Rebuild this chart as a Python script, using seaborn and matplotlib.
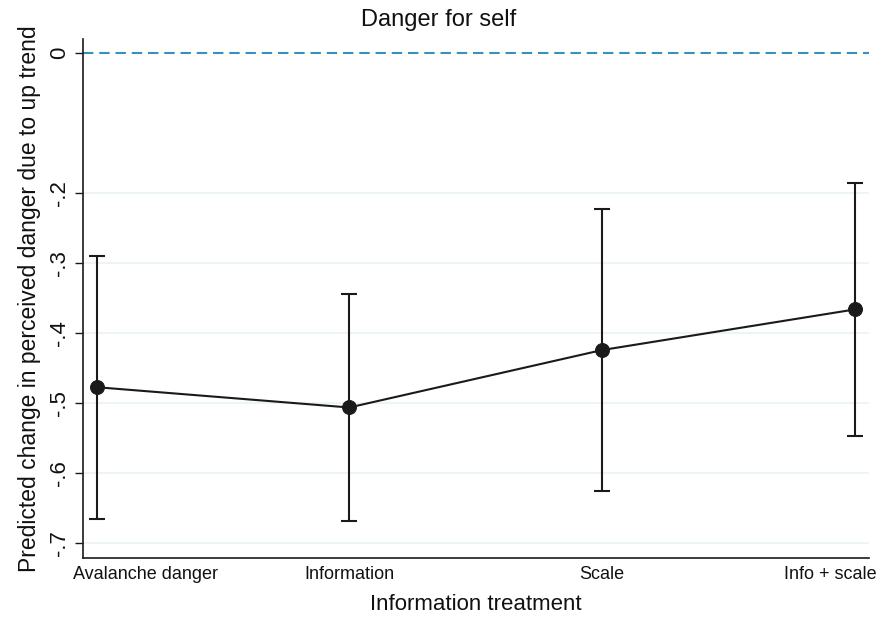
import matplotlib
matplotlib.use("Agg")
import matplotlib.pyplot as plt
import matplotlib.transforms as mtransforms
import seaborn as sns
import pandas as pd

categories = ["Avalanche danger", "Information", "Scale", "Info + scale"]
estimates = [-0.477, -0.506, -0.424, -0.366]
ci_upper = [-0.289, -0.344, -0.223, -0.186]
ci_lower = [-0.665, -0.668, -0.626, -0.547]
ytick_values = [0, -0.2, -0.3, -0.4, -0.5, -0.6, -0.7]
ytick_labels = ["0", "-.2", "-.3", "-.4", "-.5", "-.6", "-.7"]

sns.set_theme(style="white")
plt.rcParams["font.family"] = ["Liberation Sans", "DejaVu Sans"]

df = pd.DataFrame({"pos": list(range(1, len(categories) + 1)),
                   "est": estimates, "lo": ci_lower, "hi": ci_upper})

fig = plt.figure(figsize=(8.78, 6.19), dpi=100)
ax = fig.add_axes([0.0942, 0.099, 0.8955, 0.838])

# gridlines
for v in ytick_values[1:]:
    ax.axhline(v, color="#eaf2f4", lw=1.2, zorder=0)
ax.axhline(0, color="#3a8fbf", lw=1.5, ls=(0, (5, 2.8)), zorder=1)

ax.errorbar(df["pos"], df["est"],
            yerr=[df["est"] - df["lo"], df["hi"] - df["est"]],
            fmt="none", ecolor="#1a1a1a", elinewidth=1.5, capsize=6, capthick=1.5, zorder=2)
sns.lineplot(data=df, x="pos", y="est", ax=ax, color="#1a1a1a", lw=1.5,
             marker="o", markersize=10, markeredgecolor="#1a1a1a", zorder=3)

ax.set_xlim(0.945, 4.057)
ax.set_ylim(-0.7206, 0.0204)
ax.set_xticks(df["pos"])
ax.set_xticklabels(categories, fontsize=13, color="#111111")
ax.set_yticks(ytick_values)
ax.set_yticklabels(ytick_labels, fontsize=16, rotation=90, va="center", color="#111111")
ax.tick_params(axis="y", length=6, width=1, color="#1a1a1a", direction="out", left=True, pad=3)
ax.tick_params(axis="x", length=0, pad=6)

# keep first/last x tick labels inside the figure (as in the original)
xl = ax.get_xticklabels()
xl[0].set_horizontalalignment("left")
xl[0].set_transform(xl[0].get_transform() + mtransforms.ScaledTranslation(-24 / 100, 0, fig.dpi_scale_trans))
xl[-1].set_horizontalalignment("right")
xl[-1].set_transform(xl[-1].get_transform() + mtransforms.ScaledTranslation(22 / 100, 0, fig.dpi_scale_trans))

for s in ["top", "right"]:
    ax.spines[s].set_visible(False)
for s in ["left", "bottom"]:
    ax.spines[s].set_color("#1a1a1a")
    ax.spines[s].set_linewidth(1.2)

ax.set_xlabel("Information treatment", fontsize=16, labelpad=8, color="#111111")
ax.set_ylabel("Predicted change in perceived danger due to up trend", fontsize=16.5, labelpad=6, color="#111111")
fig.suptitle("Danger for self", fontsize=17, x=0.5, y=0.985, va="top", color="#111111")

fig.savefig("out.png", dpi=100)
